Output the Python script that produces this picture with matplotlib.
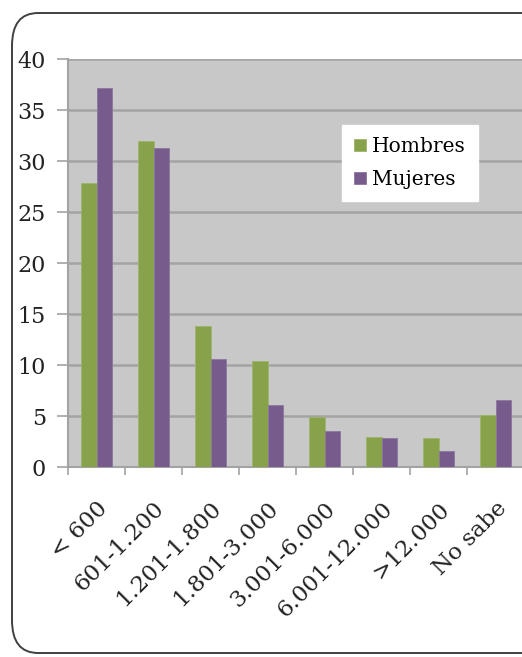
import matplotlib
matplotlib.use("Agg")
import matplotlib.pyplot as plt
import numpy as np
from matplotlib.patches import FancyBboxPatch

# ----------------------------------------------------
# Data
# ----------------------------------------------------
categories = ["< 600", "601-1.200", "1.201-1.800", "1.801-3.000",
              "3.001-6.000", "6.001-12.000", ">12.000", "No sabe"]
hombres = [27.9, 32.0, 13.8, 10.4, 4.9, 2.9, 2.8, 5.1]
mujeres = [37.2, 31.3, 10.6, 6.1, 3.5, 2.8, 1.6, 6.6]
yticks = [0, 5, 10, 15, 20, 25, 30, 35, 40]

GREEN = "#87A24B"
PURPLE = "#765B8C"
GRID = "#A3A3A3"

plt.rcParams["font.family"] = ["DejaVu Serif"]

W, H = 522, 657
fig = plt.figure(figsize=(W / 100, H / 100), dpi=100)

# outer rounded frame (right side cut off)
frame = FancyBboxPatch(
    (12 / W, 4 / H), 560 / W, 640 / H,
    boxstyle="round,pad=0,rounding_size=0.05",
    transform=fig.transFigure, facecolor="white",
    edgecolor="#404040", linewidth=1.4, zorder=-10,
)
fig.patches.append(frame)

ax = fig.add_axes([68 / W, (H - 467) / H, 456 / W, 407.7 / H])
ax.set_facecolor("#C8C8C8")

x = np.arange(len(categories))
bw = 0.28
ax.bar(x - bw / 2, hombres, bw, color=GREEN, edgecolor="#9DB66A",
       linewidth=0.6, label="Hombres", zorder=3)
ax.bar(x + bw / 2, mujeres, bw, color=PURPLE, edgecolor="#8D76A0",
       linewidth=0.6, label="Mujeres", zorder=3)

ax.set_xlim(-0.5, len(categories) - 0.5)
ax.set_ylim(0, 40)
ax.set_yticks(yticks)
ax.set_yticklabels([str(v) for v in yticks], fontsize=16, color="#222222")
ax.yaxis.grid(True, color=GRID, linewidth=1.8, zorder=1)
ax.set_axisbelow(True)

# category boundary ticks on x axis
ax.set_xticks(np.arange(len(categories)) - 0.5, minor=False)
ax.set_xticklabels([])
ax.set_xticks(x, minor=True)
ax.set_xticklabels(categories, minor=True, rotation=45, ha="right",
                   va="top", rotation_mode="anchor", fontsize=16.5,
                   color="#222222")
ax.tick_params(axis="x", which="major", length=6, color=GRID, width=1.2)
ax.tick_params(axis="x", which="minor", length=0, pad=22)
ax.tick_params(axis="y", length=8, color=GRID, width=1.2, pad=8)

for side in ["top", "right"]:
    ax.spines[side].set_visible(False)
for side in ["left", "bottom"]:
    ax.spines[side].set_color(GRID)
    ax.spines[side].set_linewidth(1.5)

leg = ax.legend(loc="upper left", bbox_to_anchor=(0.601, 0.839),
                fontsize=14.5, frameon=True, fancybox=False,
                borderaxespad=0,
                handlelength=0.6, handleheight=0.6, handletextpad=0.3,
                labelspacing=0.7, borderpad=0.6)
leg.get_frame().set_facecolor("white")
leg.get_frame().set_edgecolor("white")
leg.get_frame().set_alpha(1)

fig.savefig("out.png", dpi=100)
